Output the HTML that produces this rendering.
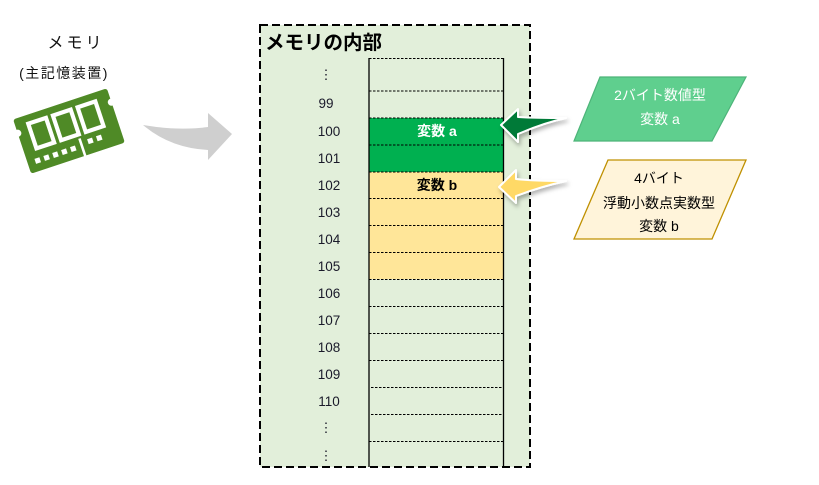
<!DOCTYPE html>
<html>
<head>
<meta charset="utf-8">
<style>
html,body{margin:0;padding:0;background:#fff;}
body{width:819px;height:480px;overflow:hidden;}
svg text{font-family:"Liberation Sans","Noto Sans CJK JP",sans-serif;}
</style>
</head>
<body>
<svg width="819" height="480" viewBox="0 0 819 480" xmlns="http://www.w3.org/2000/svg">
  <defs>
    <filter id="sh" x="-30%" y="-30%" width="160%" height="170%">
      <feDropShadow dx="1.5" dy="3" stdDeviation="2" flood-color="#000" flood-opacity="0.3"/>
    </filter>
  </defs>

  <!-- left labels -->
  <text x="76" y="48" font-size="16" text-anchor="middle" letter-spacing="3" fill="#111">メモリ</text>
  <text x="64" y="78" font-size="14" text-anchor="middle" letter-spacing="1.5" fill="#111">(主記憶装置)</text>

  <!-- memory chip icon -->
  <g transform="translate(69,131) rotate(-18.4) scale(1.04)">
    <path d="M-45,-27.5 H45 A2.5,2.5 0 0 1 47.5,-25 V-17 A3.5,3.5 0 0 0 47.5,-10 V25 A2.5,2.5 0 0 1 45,27.5 H-45 A2.5,2.5 0 0 1 -47.5,25 V-10 A3.5,3.5 0 0 0 -47.5,-17 V-25 A2.5,2.5 0 0 1 -45,-27.5 Z" fill="#4F8A26"/>
    <rect x="-35" y="-19" width="18" height="25" fill="none" stroke="#fff" stroke-width="4"/>
    <rect x="-10" y="-19" width="18" height="25" fill="none" stroke="#fff" stroke-width="4"/>
    <rect x="15" y="-19" width="18" height="25" fill="none" stroke="#fff" stroke-width="4"/>
    <rect x="-40" y="15" width="5" height="5" fill="#fff"/>
    <rect x="-31" y="15" width="5" height="5" fill="#fff"/>
    <rect x="-22" y="15" width="5" height="5" fill="#fff"/>
    <rect x="-13" y="15" width="5" height="5" fill="#fff"/>
    <rect x="-4" y="15" width="5" height="5" fill="#fff"/>
    <rect x="6" y="10" width="2.5" height="18" fill="#fff"/>
    <rect x="14" y="13" width="5" height="5" fill="#fff"/>
    <rect x="23" y="13" width="5" height="5" fill="#fff"/>
  </g>

  <!-- gray arrow -->
  <path d="M143,125 Q178,131 208,127 L208,113 L232,134 L208,160 L208,150 Q170,148 143,125 Z" fill="#CFCFCF"/>

  <!-- memory box -->
  <rect x="260" y="25" width="270" height="442" fill="#E2EFDA" stroke="#000" stroke-width="2" stroke-dasharray="8,4"/>
  <text x="265" y="49" font-size="19.5" font-weight="bold" fill="#000">メモリの内部</text>

  <!-- colored cells -->
  <rect x="369" y="118" width="135" height="54" fill="#00B050"/>
  <rect x="369" y="172" width="135" height="107" fill="#FFE699"/>

  <!-- dotted lines -->
  <g stroke="#000" stroke-width="1" stroke-dasharray="2.5,1.5">
    <line x1="369" y1="58.5" x2="504" y2="58.5"/>
    <line x1="369" y1="91" x2="504" y2="91"/>
    <line x1="369" y1="118" x2="504" y2="118"/>
    <line x1="369" y1="145" x2="504" y2="145"/>
    <line x1="369" y1="172" x2="504" y2="172"/>
    <line x1="369" y1="198.5" x2="504" y2="198.5"/>
    <line x1="369" y1="225.5" x2="504" y2="225.5"/>
    <line x1="369" y1="252.5" x2="504" y2="252.5"/>
    <line x1="369" y1="279.5" x2="504" y2="279.5"/>
    <line x1="369" y1="306.5" x2="504" y2="306.5"/>
    <line x1="369" y1="333.5" x2="504" y2="333.5"/>
    <line x1="369" y1="360.5" x2="504" y2="360.5"/>
    <line x1="371" y1="387.5" x2="504" y2="387.5"/>
    <line x1="371" y1="414.5" x2="504" y2="414.5"/>
    <line x1="369" y1="441.5" x2="504" y2="441.5"/>
  </g>
  <line x1="369" y1="58" x2="369" y2="467" stroke="#000" stroke-width="1.3"/>
  <line x1="503.5" y1="58" x2="503.5" y2="467" stroke="#000" stroke-width="1.3"/>

  <!-- address labels -->
  <g font-size="13.5" fill="#1a1a2a" text-anchor="middle">
    <text x="326" y="79">⋮</text>
    <text x="326" y="108">99</text>
    <text x="329" y="136">100</text>
    <text x="329" y="163">101</text>
    <text x="329" y="190">102</text>
    <text x="329" y="217">103</text>
    <text x="329" y="244">104</text>
    <text x="329" y="271">105</text>
    <text x="329" y="298">106</text>
    <text x="329" y="325">107</text>
    <text x="329" y="352">108</text>
    <text x="329" y="379">109</text>
    <text x="329" y="406">110</text>
    <text x="326" y="432">⋮</text>
    <text x="326" y="460">⋮</text>
  </g>

  <text x="437" y="136" font-size="14" font-weight="bold" fill="#fff" text-anchor="middle">変数 a</text>
  <text x="437" y="190" font-size="14" font-weight="bold" fill="#000" text-anchor="middle">変数 b</text>

  <!-- pointing arrows -->
  <path d="M501,125 L518,109 L518,117 C535,118 550,118 566,118 C548,122 532,128 518,134 L518,142 Z" fill="#007A37" stroke="#fff" stroke-width="2" stroke-linejoin="round" filter="url(#sh)"/>
  <path d="M499,187 L516,170 L516,179 C534,181 550,181 566,181 C548,185 532,190 516,196 L516,203 Z" fill="#FFD966" stroke="#fff" stroke-width="2" stroke-linejoin="round" filter="url(#sh)"/>

  <!-- parallelograms -->
  <polygon points="600,77 746,77 712,141 574,141" fill="#5FCF8E" stroke="#4DB479" stroke-width="1.2"/>
  <text x="660" y="100" font-size="14" fill="#fff" text-anchor="middle">2バイト数値型</text>
  <text x="660" y="124" font-size="14" fill="#fff" text-anchor="middle">変数 a</text>

  <polygon points="608,160 746,160 712,239 574,239" fill="#FFF4DA" stroke="#BF9000" stroke-width="1.3"/>
  <text x="659" y="183" font-size="14" fill="#000" text-anchor="middle">4バイト</text>
  <text x="659" y="208" font-size="14" fill="#000" text-anchor="middle">浮動小数点実数型</text>
  <text x="659" y="231" font-size="14" fill="#000" text-anchor="middle">変数 b</text>
</svg>
</body>
</html>
